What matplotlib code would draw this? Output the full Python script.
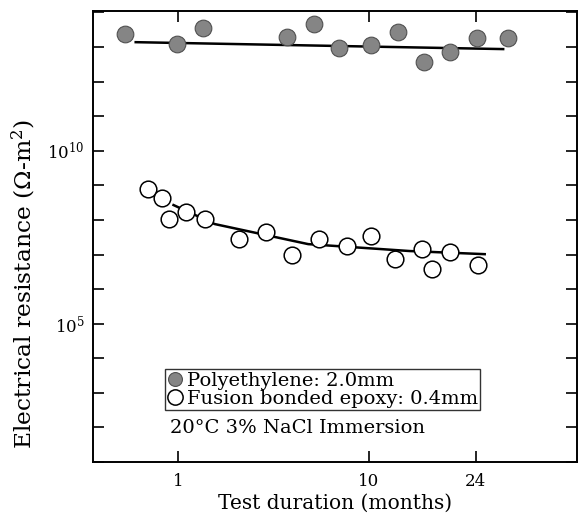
import numpy as np
import matplotlib
matplotlib.use("Agg")
import matplotlib.pyplot as plt
from matplotlib.lines import Line2D

plt.rcParams['font.family'] = ['DejaVu Serif']
plt.rcParams['mathtext.fontset'] = 'dejavuserif'

# Polyethylene 2.0mm (months, log10 ohm m2)
pe_t = [0.38, 0.98, 1.47, 4.35, 5.83, 7.52, 10.2, 12.9, 16.1, 19.8, 24.2, 30.2]
pe_logr = [13.37, 13.08, 13.55, 13.28, 13.66, 12.97, 13.05, 13.43, 12.56, 12.85, 13.26, 13.26]
pe_fit_t = [0.47, 29.2]
pe_fit_logr = [13.14, 12.94]

# Fusion bonded epoxy 0.4mm
fbe_t = [0.59, 0.76, 0.86, 1.14, 1.52, 2.44, 3.41, 4.58, 6.12, 8.15,
         10.15, 12.6, 15.8, 17.2, 19.8, 24.3]
fbe_logr = [8.89, 8.63, 8.02, 8.23, 8.02, 7.46, 7.64, 6.98, 7.46, 7.26,
            7.54, 6.88, 7.15, 6.59, 7.06, 6.69]
fbe_fit_t = [0.93, 1.75, 5.49, 14.3, 25.6]
fbe_fit_logr = [8.43, 7.88, 7.30, 7.10, 7.01]

xticks = [1, 10, 24]
yticks = 10.0 ** np.arange(1, 15)

fig = plt.figure(figsize=(5.78, 5.21), dpi=100)
ax = fig.add_axes([93/578, 1 - 462/521, 484/578, 451/521])

# time axis is compressed like a fourth root
ax.set_xscale('function', functions=(lambda x: np.power(np.clip(x, 1e-9, None), 0.25),
                                     lambda x: np.power(x, 4)))
ax.set_yscale('log')
ax.set_xlim(0.183, 47.5)
ax.set_ylim(10, 1.1e14)

ax.plot(pe_fit_t, 10.0 ** np.array(pe_fit_logr), color='black', lw=1.8, zorder=2)
ax.plot(fbe_fit_t, 10.0 ** np.array(fbe_fit_logr), color='black', lw=1.8, zorder=2)

ax.plot(pe_t, 10.0 ** np.array(pe_logr), 'o', ms=12, mfc='#858585', mec='#505050',
        mew=0.8, zorder=3)
ax.plot(fbe_t, 10.0 ** np.array(fbe_logr), 'o', ms=12, mfc='white', mec='black',
        mew=1.1, zorder=3)

ax.set_xticks(xticks)
ax.set_xticklabels(['1', '10', '24'])
ax.xaxis.set_minor_locator(plt.NullLocator())
ax.set_yticks(yticks)
ax.set_yticklabels(['$10^{5}$' if v == 1e5 else '$10^{10}$' if v == 1e10 else ''
                    for v in yticks])
ax.yaxis.set_minor_locator(plt.NullLocator())
ax.tick_params(axis='both', direction='in', top=True, right=True, width=1.2,
               labelsize=12)
ax.tick_params(axis='x', length=8, pad=8)
ax.tick_params(axis='y', length=8, pad=6)
for s in ax.spines.values():
    s.set_linewidth(1.4)

ax.set_xlabel('Test duration (months)', fontsize=14.5, labelpad=3)
ax.set_ylabel('Electrical resistance (Ω-m$^2$)', fontsize=16.8)
ax.yaxis.set_label_coords(-0.113, 0.395)

handles = [
    Line2D([], [], ls='none', marker='o', ms=10, mfc='#858585', mec='#505050', mew=0.8),
    Line2D([], [], ls='none', marker='o', ms=11, mfc='white', mec='black', mew=1.1),
]
leg = ax.legend(handles, ['Polyethylene: 2.0mm', 'Fusion bonded epoxy: 0.4mm'],
                loc='lower left', bbox_to_anchor=(0.149, 0.115), fontsize=14,
                frameon=True, fancybox=False, borderpad=0.12, handlelength=0.8,
                handletextpad=0.2, labelspacing=0.0, borderaxespad=0)
leg.get_frame().set_edgecolor('black')
leg.get_frame().set_linewidth(1.0)

ax.text(0.4215, 0.075, '20°C 3% NaCl Immersion', transform=ax.transAxes,
        ha='center', va='center', fontsize=14)

fig.savefig('out.png', dpi=100)
